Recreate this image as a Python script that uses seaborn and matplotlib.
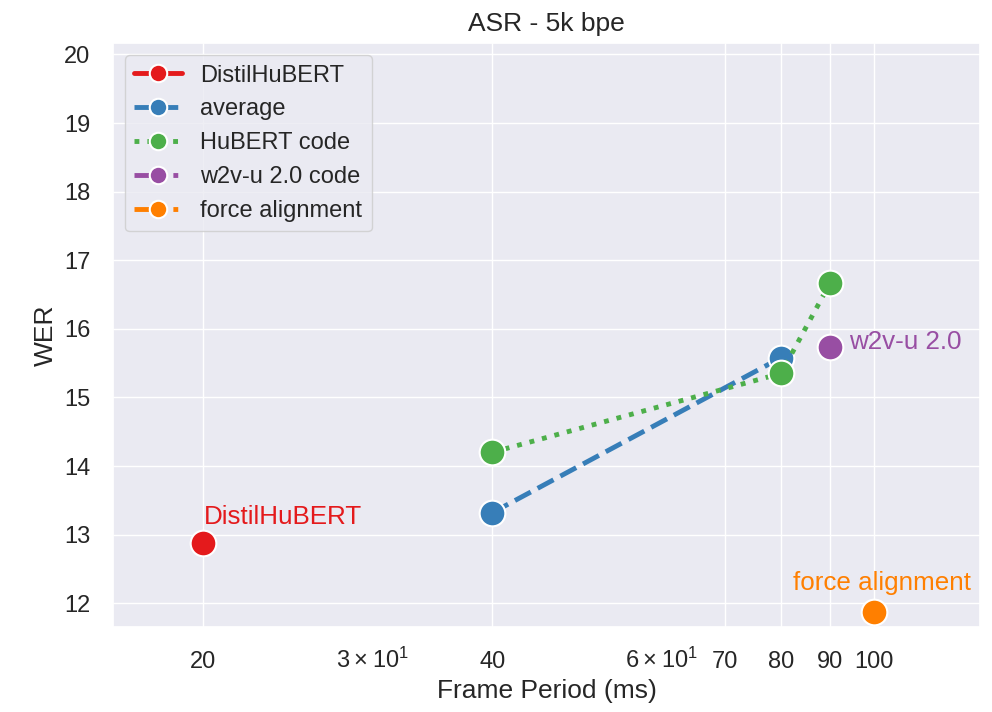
import matplotlib
matplotlib.use('Agg')
import matplotlib.pyplot as plt
import seaborn as sns
from matplotlib.ticker import ScalarFormatter

# frame period (ms) and WER per system
distil_x = [20]
distil_y = [12.88]
average_x = [40, 80]
average_y = [13.32, 15.58]
hubert_x = [40, 80, 90]
hubert_y = [14.20, 15.35, 16.67]
w2vu_x = [90]
w2vu_y = [15.73]
force_x = [100]
force_y = [11.87]

xtick_vals = [20, 40, 70, 80, 90, 100]

sns.set_theme(style='darkgrid')
plt.rcParams['font.family'] = ['Liberation Sans', 'DejaVu Sans']

colors = sns.color_palette('Set1')
c_red, c_blue, c_green, c_purple, c_orange = colors[0], colors[1], colors[2], colors[3], colors[4]

fig, ax = plt.subplots(figsize=(9.92, 7.12), dpi=100)
fig.subplots_adjust(left=0.114, right=0.988, top=0.939, bottom=0.119)

line_kw = dict(marker='o', markersize=18.5, markeredgecolor='white', markeredgewidth=1.5, linewidth=3.5)

sns.lineplot(x=distil_x, y=distil_y, color=c_red, linestyle='-', label='DistilHuBERT', ax=ax, **line_kw)
sns.lineplot(x=average_x, y=average_y, color=c_blue, linestyle='--', label='average', ax=ax, **line_kw)
sns.lineplot(x=hubert_x, y=hubert_y, color=c_green, linestyle=':', label='HuBERT code', ax=ax, **line_kw)
sns.lineplot(x=w2vu_x, y=w2vu_y, color=c_purple, linestyle='-.', label='w2v-u 2.0 code', ax=ax, **line_kw)
sns.lineplot(x=force_x, y=force_y, color=c_orange, linestyle='-.', label='force alignment', ax=ax, **line_kw)

# text labels next to single points
ax.text(20, 13.16, 'DistilHuBERT', color=c_red, fontsize=18.7, ha='left', va='baseline')
ax.text(94.2, 15.71, 'w2v-u 2.0', color=c_purple, fontsize=18.7, ha='left', va='baseline')
ax.text(82.3, 12.2, 'force alignment', color=c_orange, fontsize=18.7, ha='left', va='baseline')

ax.set_xscale('log')
ax.set_xticks(xtick_vals)
ax.xaxis.set_major_formatter(ScalarFormatter())
ax.set_xlim(16.1, 129)
ax.set_ylim(11.65, 20.16)
ax.set_yticks(range(12, 21))

ax.tick_params(axis='x', which='both', labelsize=17, pad=11)
ax.tick_params(axis='y', labelsize=17, pad=10.5)
ax.set_xlabel('Frame Period (ms)', fontsize=19)
ax.set_ylabel('WER', fontsize=19)
ax.set_title('ASR - 5k bpe', fontsize=19, pad=9)

ax.legend(loc='upper left', fontsize=17, markerscale=0.68, labelspacing=0.5)

plt.savefig('out.png', dpi=100)
plt.close()
